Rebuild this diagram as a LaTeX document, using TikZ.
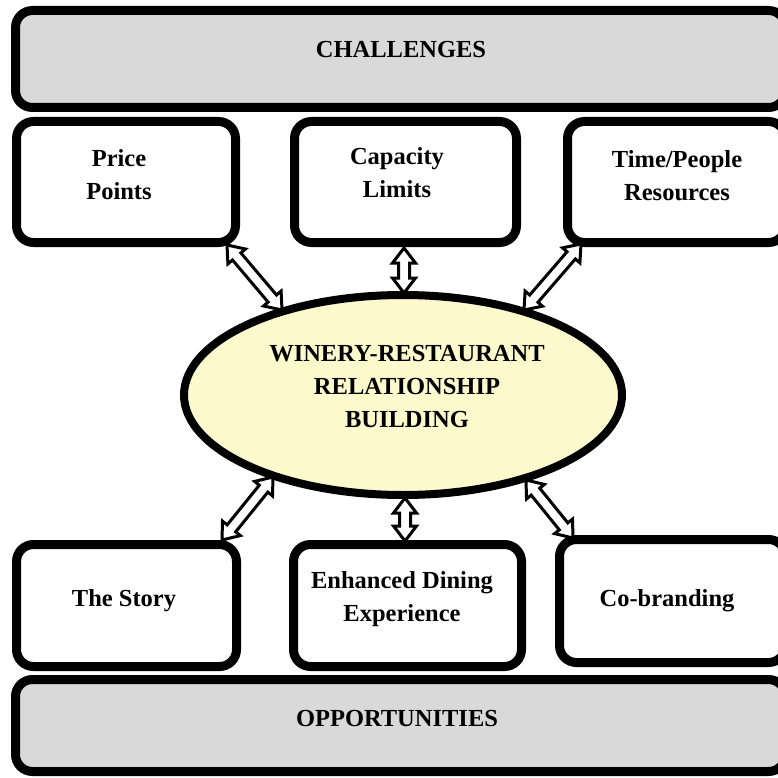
\documentclass[tikz,border=0pt]{standalone}
\usepackage{fontspec}
\setmainfont{Liberation Serif}
\usetikzlibrary{shapes.geometric,calc}
\definecolor{boxgray}{HTML}{D9D9D9}
\definecolor{ellyellow}{HTML}{FCF9CC}
\tikzset{
  bigbox/.style={draw=black, fill=boxgray, line width=9pt, rounded corners=17pt, inner sep=0pt, outer sep=0pt},
  smallbox/.style={draw=black, fill=white, line width=9pt, rounded corners=17pt, inner sep=0pt, outer sep=0pt},
  centre/.style={draw=black, fill=ellyellow, ellipse, line width=8pt, inner sep=0pt, outer sep=0pt},
  lbl/.style={font=\fontsize{24.5}{33}\selectfont\bfseries, align=center, inner sep=0pt},
  arr/.style={draw=black, fill=white, line width=3pt, line join=miter}
}
\newcommand\dblarr[2]{%
  \coordinate (hA) at ($(#1)!15pt!(#2)$);
  \coordinate (hB) at ($(#2)!15pt!(#1)$);
  \draw[arr] (#1) -- ($(hA)!11.5pt!90:(#2)$) -- ($(hA)!5.5pt!90:(#2)$)
    -- ($(hB)!5.5pt!-90:(#1)$) -- ($(hB)!11.5pt!-90:(#1)$) -- (#2)
    -- ($(hB)!11.5pt!90:(#1)$) -- ($(hB)!5.5pt!90:(#1)$)
    -- ($(hA)!5.5pt!-90:(#2)$) -- ($(hA)!11.5pt!-90:(#2)$) -- cycle;}
\begin{document}
\begin{tikzpicture}[x=1pt,y=-1pt]
\useasboundingbox (0,0) rectangle (778,778);
\fill[white] (0,0) rectangle (778,778);
\clip (0,0) rectangle (778,778);
% frames
\node[bigbox, minimum width=770pt, minimum height=97pt] (chal) at (400.5,59) {};
\node[bigbox, minimum width=770pt, minimum height=92pt] (opp) at (400.5,725.5) {};
\node[smallbox, minimum width=219pt, minimum height=121pt] (price) at (126,182) {};
\node[smallbox, minimum width=222pt, minimum height=121pt] (capa) at (405.5,182) {};
\node[smallbox, minimum width=218pt, minimum height=121pt] (time) at (676.5,182) {};
\node[smallbox, minimum width=220pt, minimum height=122pt] (story) at (126.5,605.5) {};
\node[smallbox, minimum width=228pt, minimum height=122pt] (dining) at (407.5,605.5) {};
\node[smallbox, minimum width=226pt, minimum height=123pt] (cobrand) at (672.5,601) {};
\node[centre, minimum width=438pt, minimum height=200pt] (core) at (403,395) {};
% texts
\node[lbl] (tchal) at (401,50) {CHALLENGES};
\node[lbl] (topp) at (397,718) {OPPORTUNITIES};
\node[lbl] (tprice) at (119,175) {Price\\Points};
\node[lbl] (tcapa) at (397,173) {Capacity\\Limits};
\node[lbl] (ttime) at (677,176) {Time/People\\Resources};
\node[lbl] (tcore) at (407,387) {WINERY-RESTAURANT\\RELATIONSHIP\\BUILDING};
\node[lbl] (tstory) at (124,601) {The Story};
\node[lbl] (tdining) at (402,599) {Enhanced Dining\\Experience};
\node[lbl] (tcobrand) at (667,601) {Co-branding};
% arrow end points
\coordinate (a1) at (227,245); \coordinate (b1) at (282,310);
\coordinate (a2) at (404,248); \coordinate (b2) at (404,293);
\coordinate (a3) at (581,244); \coordinate (b3) at (524,310);
\coordinate (a4) at (273,477); \coordinate (b4) at (222,540);
\coordinate (a5) at (405,498); \coordinate (b5) at (405,541);
\coordinate (a6) at (526,480); \coordinate (b6) at (573,538);
\dblarr{a1}{b1}
\dblarr{a2}{b2}
\dblarr{a3}{b3}
\dblarr{a4}{b4}
\dblarr{a5}{b5}
\dblarr{a6}{b6}
\end{tikzpicture}
\end{document}
